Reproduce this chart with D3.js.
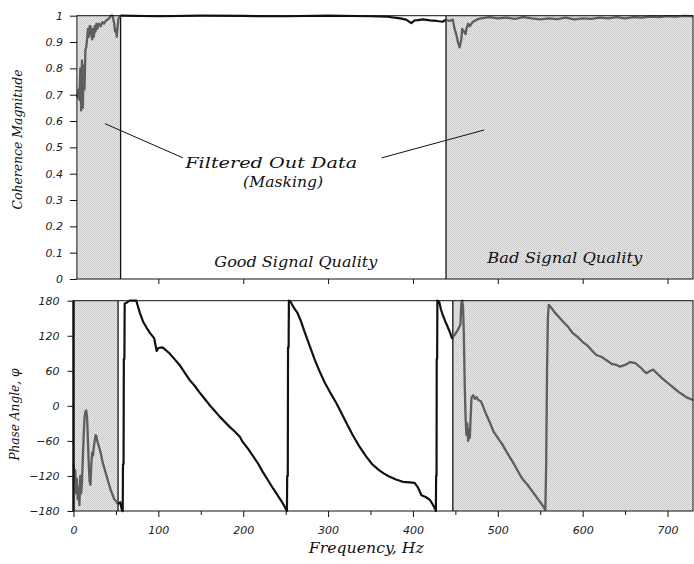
<!DOCTYPE html>
<html>
<head>
<meta charset="utf-8">
<script src="https://cdn.jsdelivr.net/npm/d3@7"></script>
<style>
  body { margin: 0; background: white; }
  svg { display: block; }
  .tick text { font-family: 'DejaVu Sans', sans-serif; font-style: italic; font-size: 11px; fill: #222; }
  .lbl { font-family: 'DejaVu Serif', serif; font-style: italic; fill: #111; }
</style>
</head>
<body>
<svg id="chart" width="694" height="564"></svg>
<script>
// frequency (Hz) / value pairs
const cohMaskLow = [[4,0.70],[5,0.69],[6,0.72],[7,0.68],[8,0.80],[9,0.64],[10,0.83],[11,0.65],[12,0.81],[13,0.72],[14,0.87],[15,0.88],[16,0.91],[17,0.95],[18,0.92],[19,0.96],[20,0.96],[21,0.93],[22,0.91],[23,0.95],[24,0.92],[25,0.96],[26,0.94],[27,0.97],[28,0.95],[30,0.97],[32,0.96],[34,0.975],[36,0.97],[38,0.98],[40,0.985],[42,0.99],[44,1.0],[46,1.0],[48,0.97],[49,0.94],[50,0.95],[51,0.92],[52,0.96],[53,0.99],[55.5,1.0]]
const cohGood = [[55.5,1.0],[100,0.998],[150,1.0],[200,0.999],[250,0.998],[300,1.0],[350,0.998],[370,0.996],[385,0.99],[392,0.985],[398,0.972],[402,0.982],[406,0.983],[412,0.986],[420,0.982],[428,0.98],[435,0.977],[439,0.985]]
const cohMaskHigh = [[439,0.985],[443,0.98],[447,0.985],[449,0.95],[451,0.93],[453,0.9],[455,0.88],[457,0.91],[458,0.95],[460,0.94],[462,0.93],[463,0.95],[465,0.97],[467,0.96],[470,0.975],[475,0.985],[480,0.99],[490,0.995],[500,0.99],[510,0.993],[520,0.988],[530,0.995],[540,0.99],[550,0.986],[560,0.99],[570,0.987],[580,0.993],[590,0.986],[600,0.99],[610,0.988],[620,0.993],[630,0.99],[640,0.995],[650,0.99],[660,0.995],[670,0.993],[680,0.997],[690,0.995],[700,0.998],[710,0.997],[720,0.999],[730,0.998]]

const phaseMaskLow = [[0,-100],[1,-115],[2,-110],[3,-150],[4,-125],[5,-160],[6,-140],[7,-170],[8,-120],[9,-150],[10,-130],[11,-90],[12,-50],[13,-20],[14,-10],[15,-8],[16,-20],[17,-60],[18,-100],[19,-130],[20,-135],[21,-100],[22,-80],[23,-85],[24,-70],[25,-60],[26,-50],[27,-52],[28,-60],[30,-70],[32,-80],[34,-95],[36,-105],[38,-115],[40,-125],[42,-135],[44,-145],[46,-152],[48,-160],[50,-163],[52.5,-168]]
const phaseGood = [[52.5,-168],[55,-165],[57,-178],[58,-180],[58.3,-100],[59,-100],[59.3,80],[60,80],[60.3,175],[62,176],[64,178],[66,180],[74,180],[78,160],[82,144],[86,134],[90,125],[95,116],[98,94],[100,99],[105,100],[113,90],[119,80],[125,70],[131,57],[137,44],[143,34],[148,24],[154,13],[160,2],[166,-8],[172,-18],[178,-27],[184,-36],[190,-44],[196,-53],[199,-61],[206,-74],[213,-89],[218,-100],[223,-113],[229,-127],[235,-141],[240,-152],[245,-163],[249,-173],[251.5,-180],[251.8,-120],[252.5,-120],[252.8,100],[253.5,100],[253.8,180],[256,178],[258,172],[261,165],[264,159],[268,145],[272,128],[278,104],[284,80],[290,59],[296,40],[302,24],[310,4],[317,-16],[323,-33],[329,-50],[337,-70],[345,-87],[352,-100],[360,-110],[366,-116],[372,-121],[380,-126],[388,-130],[396,-131],[402,-132],[406,-140],[410,-153],[415,-156],[420,-161],[423,-168],[426,-176],[427,-180],[427.3,-120],[427.8,-120],[428,80],[428.5,80],[428.8,180],[431,178],[433,165],[435,156],[438,145],[441,135],[443,128],[446,116],[447,118]]
const phaseMaskHigh = [[447,118],[449,121],[452,128],[455,136],[456,140],[457,175],[458,180],[459,170],[460,120],[461,36],[462,-20],[463,-50],[464,-30],[465,-60],[466,-40],[467,-55],[468,-20],[469,14],[471,18],[473,12],[475,15],[477,10],[480,8],[483,-2],[485,-10],[488,-20],[491,-30],[495,-44],[500,-55],[505,-65],[510,-78],[515,-90],[520,-102],[526,-118],[530,-127],[535,-135],[540,-145],[545,-155],[550,-165],[554,-173],[556,-178],[557,-100],[558,60],[559,150],[560,173],[563,168],[567,160],[572,152],[577,144],[583,135],[588,125],[594,118],[601,108],[605,104],[610,96],[616,87],[622,84],[628,78],[634,72],[640,70],[644,67],[650,70],[656,75],[662,73],[668,66],[672,60],[675,56],[680,60],[683,62],[688,55],[693,48],[698,42],[703,36],[708,30],[713,24],[718,19],[723,14],[730,10]]

// masked (filtered out) frequency bands
const cohMasks = [[4, 55.5], [439, 730]]
const phaseMasks = [[0, 52.5], [447, 730]]

const cohTicks = [0, 0.1, 0.2, 0.3, 0.4, 0.5, 0.6, 0.7, 0.8, 0.9, 1]
const phaseTicks = [-180, -120, -60, 0, 60, 120, 180]
const freqTicks = [0, 100, 200, 300, 400, 500, 600, 700]
const freqMinor = [50, 150, 250, 350, 450, 550, 650]

const svg = d3.select('#chart')

const defs = svg.append('defs')
const pat = defs.append('pattern')
  .attr('id', 'dots')
  .attr('width', 2).attr('height', 2)
  .attr('patternUnits', 'userSpaceOnUse')
pat.append('rect').attr('width', 2).attr('height', 2).attr('fill', '#e8e8e8')
pat.append('rect').attr('width', 1).attr('height', 1).attr('fill', '#cacaca')
pat.append('rect').attr('x', 1).attr('y', 1).attr('width', 1).attr('height', 1).attr('fill', '#cacaca')

const x = d3.scaleLinear().domain([0, 730]).range([73.5, 693])
const yCoh = d3.scaleLinear().domain([0, 1]).range([279, 15.7])
const yPh = d3.scaleLinear().domain([-180, 180]).range([511, 300.7])

function drawPanel (yScale, masks, segments, frameLeft) {
  const g = svg.append('g')
  const [y0, y1] = yScale.range()

  g.selectAll('rect.mask')
    .data(masks)
    .join('rect')
    .attr('class', 'mask')
    .attr('x', d => x(d[0]))
    .attr('width', d => x(d[1]) - x(d[0]))
    .attr('y', y1)
    .attr('height', y0 - y1)
    .attr('fill', 'url(#dots)')

  // mask boundaries
  g.selectAll('line.edge')
    .data(masks.filter(d => d[0] > 5).map(d => d[0]).concat(masks.filter(d => d[1] < 700).map(d => d[1])))
    .join('line')
    .attr('class', 'edge')
    .attr('x1', d => x(d)).attr('x2', d => x(d))
    .attr('y1', y1).attr('y2', y0)
    .attr('stroke', '#111')
    .attr('stroke-width', 1.3)

  const line = d3.line().x(d => x(d[0])).y(d => yScale(d[1]))
  segments.forEach(s => {
    g.append('path')
      .datum(s.data)
      .attr('d', line)
      .attr('fill', 'none')
      .attr('stroke', s.masked ? '#5e5e5e' : '#111')
      .attr('stroke-width', s.masked ? 2.3 : 2.2)
      .attr('stroke-linejoin', 'round')
  })

  g.append('rect')
    .attr('x', x(frameLeft))
    .attr('y', y1)
    .attr('width', x(730) - x(frameLeft))
    .attr('height', y0 - y1)
    .attr('fill', 'none')
    .attr('stroke', '#111')
    .attr('stroke-width', 1)
  return g
}

drawPanel(yCoh, cohMasks, [
  { data: cohMaskLow, masked: true },
  { data: cohGood, masked: false },
  { data: cohMaskHigh, masked: true }
], 4)

drawPanel(yPh, phaseMasks, [
  { data: phaseMaskLow, masked: true },
  { data: phaseGood, masked: false },
  { data: phaseMaskHigh, masked: true }
], 0)

// axes
function styleAxis (g) {
  g.select('.domain').remove()
  g.selectAll('.tick line').attr('stroke', '#111')
}

svg.append('g')
  .attr('transform', `translate(${x(4)},0)`)
  .call(d3.axisLeft(yCoh).tickValues(cohTicks).tickSize(7).tickPadding(7).tickFormat(d3.format('')))
  .call(styleAxis)

svg.append('g')
  .attr('transform', `translate(0,${yCoh(0)})`)
  .call(d3.axisBottom(x).tickValues(freqTicks.filter(d => d > 0)).tickSize(5).tickFormat(''))
  .call(styleAxis)

svg.append('g')
  .attr('transform', `translate(${x(0)},0)`)
  .call(d3.axisLeft(yPh).tickValues(phaseTicks).tickSize(6).tickPadding(8))
  .call(styleAxis)

svg.append('line')
  .attr('x1', x(0)).attr('x2', x(0))
  .attr('y1', yPh(180)).attr('y2', yPh(-180))
  .attr('stroke', '#111').attr('stroke-width', 2.5)

svg.append('g')
  .attr('transform', `translate(0,${yPh(-180)})`)
  .call(d3.axisBottom(x).tickValues(freqTicks).tickSize(6).tickPadding(9))
  .call(styleAxis)

svg.append('g')
  .attr('transform', `translate(0,${yPh(-180)})`)
  .call(d3.axisBottom(x).tickValues(freqMinor).tickSize(4).tickFormat(''))
  .call(styleAxis)

// axis titles
svg.append('text').attr('class', 'lbl')
  .attr('transform', `translate(22,${(yCoh(0.53))}) rotate(-90)`)
  .attr('text-anchor', 'middle')
  .attr('font-size', 13)
  .attr('textLength', 140).attr('lengthAdjust', 'spacingAndGlyphs')
  .text('Coherence Magnitude')

svg.append('text').attr('class', 'lbl')
  .attr('transform', `translate(19,${yPh(-15)}) rotate(-90)`)
  .attr('text-anchor', 'middle')
  .attr('font-size', 13)
  .attr('textLength', 92).attr('lengthAdjust', 'spacingAndGlyphs')
  .text('Phase Angle, φ')

svg.append('text').attr('class', 'lbl')
  .attr('x', x(345)).attr('y', 553)
  .attr('text-anchor', 'middle')
  .attr('font-size', 15)
  .attr('textLength', 115).attr('lengthAdjust', 'spacingAndGlyphs')
  .text('Frequency, Hz')

// annotations, in data units of the coherence panel
const notes = [
  { text: 'Filtered Out Data', f: 233, v: 0.42, w: 172 },
  { text: '(Masking)', f: 247, v: 0.35, w: 80 },
  { text: 'Good Signal Quality', f: 262, v: 0.045, w: 163 },
  { text: 'Bad Signal Quality', f: 579, v: 0.06, w: 155 }
]
const pointers = [
  [[37, 0.59], [129, 0.46]],
  [[363, 0.46], [484, 0.566]]
]

svg.selectAll('text.note')
  .data(notes)
  .join('text')
  .attr('class', 'note lbl')
  .attr('x', d => x(d.f))
  .attr('y', d => yCoh(d.v))
  .attr('text-anchor', 'middle')
  .attr('font-size', 15)
  .attr('textLength', d => d.w)
  .attr('lengthAdjust', 'spacingAndGlyphs')
  .text(d => d.text)

svg.selectAll('line.pointer')
  .data(pointers)
  .join('line')
  .attr('class', 'pointer')
  .attr('x1', d => x(d[0][0])).attr('y1', d => yCoh(d[0][1]))
  .attr('x2', d => x(d[1][0])).attr('y2', d => yCoh(d[1][1]))
  .attr('stroke', '#111')
  .attr('stroke-width', 1)
</script>
</body>
</html>
